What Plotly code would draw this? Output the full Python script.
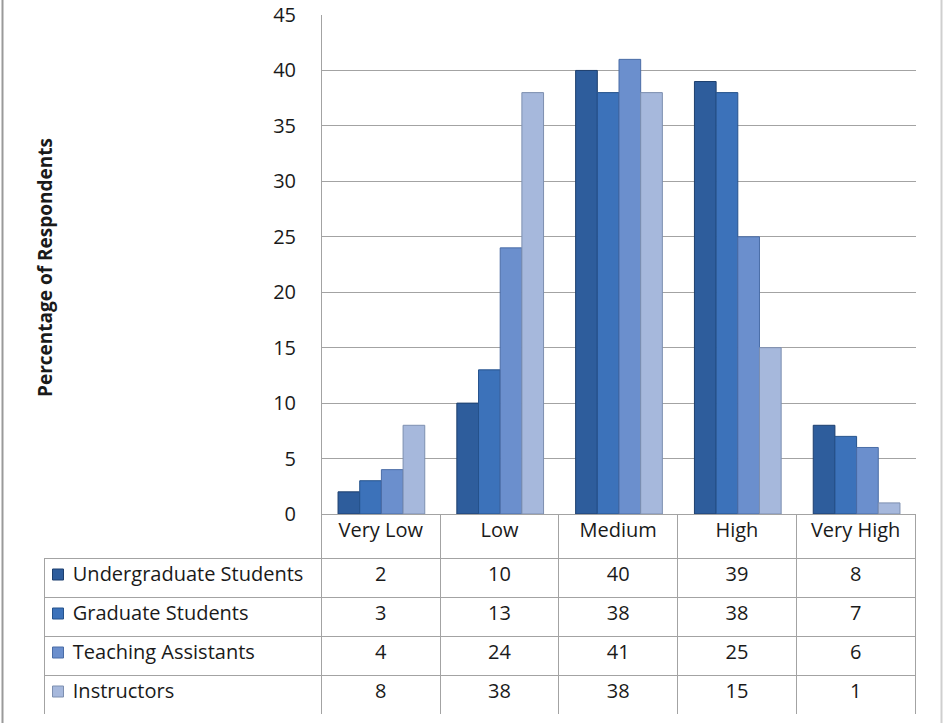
import plotly.graph_objects as go

categories = ["Very Low", "Low", "Medium", "High", "Very High"]
series_names = ["Undergraduate Students", "Graduate Students", "Teaching Assistants", "Instructors"]
undergrad = [2, 10, 40, 39, 8]
graduate = [3, 13, 38, 38, 7]
teaching_assistants = [4, 24, 41, 25, 6]
instructors = [8, 38, 38, 15, 1]
y_ticks = [0, 5, 10, 15, 20, 25, 30, 35, 40, 45]

series_values = [undergrad, graduate, teaching_assistants, instructors]
colors = ["#2e5d9c", "#3c72ba", "#6b8fcd", "#a6b8dc"]
edge_colors = ["#1d3f6e", "#25528c", "#4a6ca6", "#7d8fb0"]

W, H = 943, 723
FONT = "Open Sans"
GRID = "#a3a3a3"
CLEAR = "rgba(0,0,0,0)"
NBSP = "\u00a0"

fig = go.Figure()
for name, vals, c, ec in zip(series_names, series_values, colors, edge_colors):
    fig.add_trace(go.Bar(
        x=categories, y=vals, name=name,
        marker=dict(color=c, line=dict(color=ec, width=1)),
        showlegend=False,
    ))

# data table below the plot
header_vals = [""] + categories
first_col = [NBSP * 4 + n.replace(" ", NBSP) for n in series_names]
cell_vals = [first_col] + [[str(s[i]) for s in series_values] for i in range(len(categories))]

fig.add_trace(go.Table(
    domain=dict(x=[44 / W, 916 / W], y=[1 - 714 / H, 1 - 514 / H]),
    columnwidth=[278, 119, 119, 119, 119, 119],
    header=dict(
        values=header_vals,
        height=44,
        align="center",
        fill=dict(color=CLEAR),
        line=dict(color=[CLEAR] + [GRID] * 5, width=1),
        font=dict(family=FONT, size=20, color="#1a1a1a"),
    ),
    cells=dict(
        values=cell_vals,
        height=39,
        align=["left"] + ["center"] * 5,
        fill=dict(color=CLEAR),
        line=dict(color=GRID, width=1),
        font=dict(family=FONT, size=20, color="#1a1a1a"),
    ),
))

# legend keys inside the table's first column (overlay axes spanning the data rows)
fig.add_trace(go.Scatter(
    x=[14] * len(series_names), y=series_names,
    xaxis="x2", yaxis="y2", mode="markers",
    marker=dict(symbol="square", size=11, color=colors, line=dict(color=edge_colors, width=1)),
    showlegend=False, hoverinfo="skip",
))

fig.update_layout(
    width=W, height=H,
    margin=dict(l=0, r=0, t=0, b=0, pad=0),
    paper_bgcolor="white", plot_bgcolor="white",
    barmode="group", bargap=0.27, bargroupgap=0,
    font=dict(family=FONT, size=20, color="#1a1a1a"),
    xaxis=dict(
        domain=[322 / W, 916 / W], automargin=False,
        showticklabels=False, ticks="",
        showline=False, showgrid=False, zeroline=False,
    ),
    yaxis=dict(
        domain=[1 - 514 / H, 1 - 15 / H], automargin=False,
        range=[0, 45], tickvals=y_ticks,
        showgrid=True, gridcolor=GRID, gridwidth=1,
        showline=True, linecolor=GRID, linewidth=1,
        zeroline=False, ticks="", ticklabelstandoff=21,
        tickfont=dict(family=FONT, size=20, color="#1a1a1a"),
    ),
    xaxis2=dict(
        domain=[44 / W, 322 / W], range=[0, 278], visible=False,
        fixedrange=True, automargin=False,
    ),
    yaxis2=dict(
        domain=[1 - 711 / H, 1 - 555 / H], visible=False,
        type="category", categoryarray=series_names, categoryorder="array",
        range=[len(series_names) - 0.5, -0.5], fixedrange=True, automargin=False,
    ),
    annotations=[dict(
        text="<b>Percentage of Respondents</b>",
        xref="paper", yref="paper", x=45 / W, y=1 - 268 / H,
        xanchor="center", yanchor="middle",
        textangle=-90, showarrow=False,
        font=dict(family=FONT, size=19, color="#1a1a1a"),
    )],
    shapes=[
        dict(type="line", xref="paper", yref="paper", x0=2.5 / W, x1=2.5 / W, y0=0, y1=1,
             line=dict(color="#9a9a9a", width=2)),
        dict(type="line", xref="paper", yref="paper", x0=941.5 / W, x1=941.5 / W, y0=0, y1=1,
             line=dict(color="#cfcfcf", width=2)),
    ],
)

fig.write_html(
    "out.html",
    config={"displayModeBar": False},
    post_script="document.body.style.margin='0';",
)
